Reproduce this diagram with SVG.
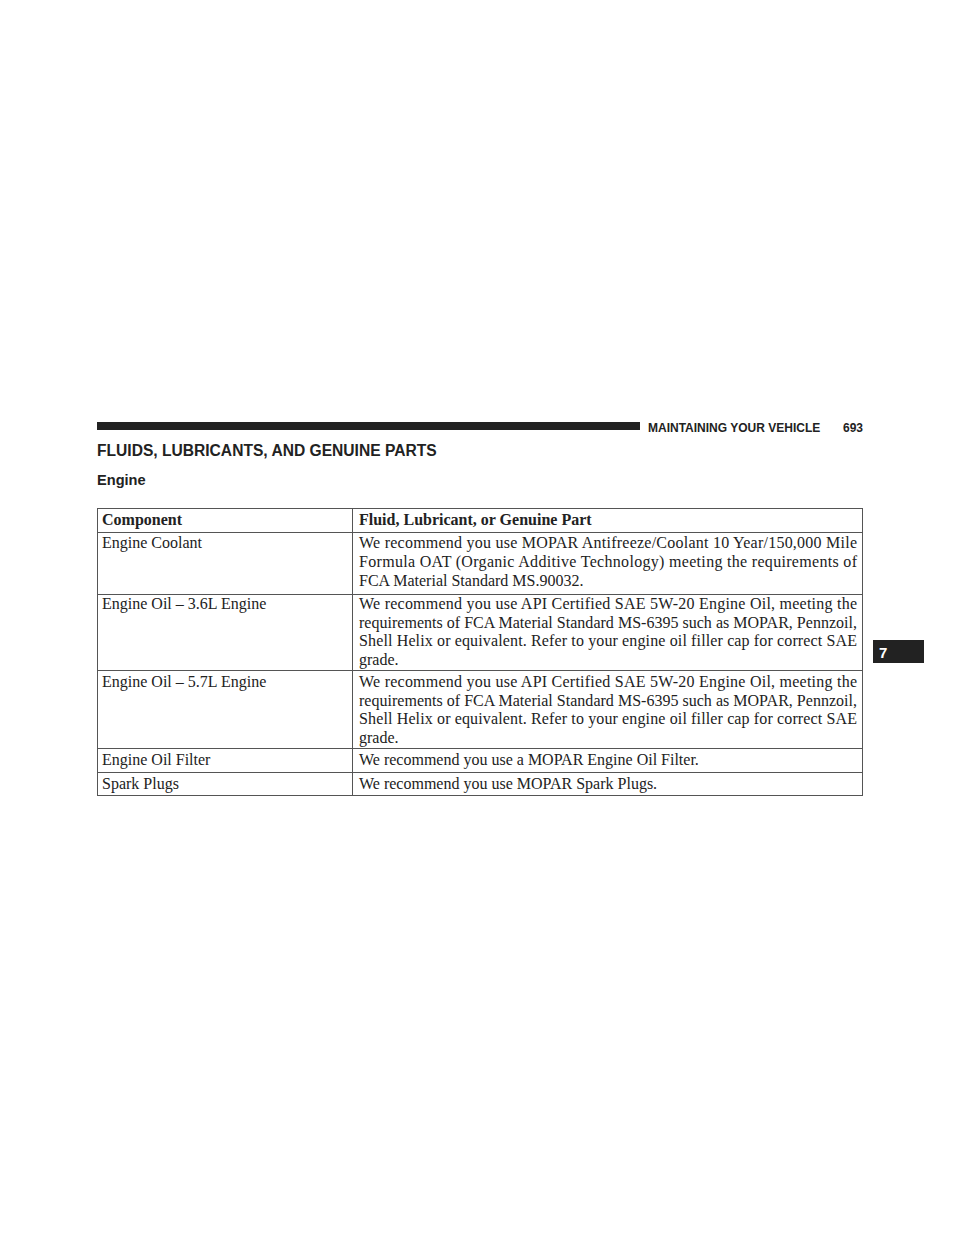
<svg xmlns="http://www.w3.org/2000/svg" width="960" height="1242" viewBox="0 0 960 1242">
<style>
.h{font-family:"Liberation Sans",Arial,sans-serif;font-weight:bold;fill:#222}
.t{font-family:"Liberation Serif","Times New Roman",serif;font-size:16px;fill:#222}
.b{font-weight:bold}
.ln{stroke:#555;stroke-width:1;fill:none}
</style>
<rect width="960" height="1242" fill="#fff"/>
<rect x="97" y="422" width="543" height="8" fill="#222"/>
<text class="h" x="648" y="432" font-size="12">MAINTAINING YOUR VEHICLE</text>
<text class="h" x="843" y="432" font-size="12">693</text>
<text class="h" x="97" y="456" font-size="15.6">FLUIDS, LUBRICANTS, AND GENUINE PARTS</text>
<text class="h" x="97" y="485" font-size="14.6">Engine</text>
<rect x="873" y="640" width="51" height="23" fill="#222"/>
<text class="h" x="879" y="658" font-size="15" style="fill:#fff">7</text>
<g id="table">
<rect class="ln" x="97.5" y="508.5" width="765" height="287"/>
<path class="ln" d="M352.5 508.5V795.5M97.5 532.5H862.5M97.5 594.5H862.5M97.5 670.5H862.5M97.5 748.5H862.5M97.5 772.5H862.5"/>
</g>
<g id="r0">
<text class="t b" x="102" y="525">Component</text>
<text class="t b" x="359" y="525">Fluid, Lubricant, or Genuine Part</text>
</g>
<g id="r1">
<text class="t" x="102" y="548">Engine Coolant</text>
<text class="t" x="359" y="548" textLength="498" lengthAdjust="spacing">We recommend you use MOPAR Antifreeze/Coolant 10 Year/150,000 Mile</text>
<text class="t" x="359" y="567" textLength="498" lengthAdjust="spacing">Formula OAT (Organic Additive Technology) meeting the requirements of</text>
<text class="t" x="359" y="586">FCA Material Standard MS.90032.</text>
</g>
<g id="r2">
<text class="t" x="102" y="609">Engine Oil – 3.6L Engine</text>
<text class="t" x="359" y="609" textLength="498" lengthAdjust="spacing">We recommend you use API Certified SAE 5W-20 Engine Oil, meeting the</text>
<text class="t" x="359" y="628" textLength="498" lengthAdjust="spacing">requirements of FCA Material Standard MS-6395 such as MOPAR, Pennzoil,</text>
<text class="t" x="359" y="646" textLength="498" lengthAdjust="spacing">Shell Helix or equivalent. Refer to your engine oil filler cap for correct SAE</text>
<text class="t" x="359" y="665">grade.</text>
</g>
<g id="r3">
<text class="t" x="102" y="687">Engine Oil – 5.7L Engine</text>
<text class="t" x="359" y="687" textLength="498" lengthAdjust="spacing">We recommend you use API Certified SAE 5W-20 Engine Oil, meeting the</text>
<text class="t" x="359" y="706" textLength="498" lengthAdjust="spacing">requirements of FCA Material Standard MS-6395 such as MOPAR, Pennzoil,</text>
<text class="t" x="359" y="724" textLength="498" lengthAdjust="spacing">Shell Helix or equivalent. Refer to your engine oil filler cap for correct SAE</text>
<text class="t" x="359" y="743">grade.</text>
</g>
<g id="r4">
<text class="t" x="102" y="765">Engine Oil Filter</text>
<text class="t" x="359" y="765">We recommend you use a MOPAR Engine Oil Filter.</text>
</g>
<g id="r5">
<text class="t" x="102" y="789">Spark Plugs</text>
<text class="t" x="359" y="789">We recommend you use MOPAR Spark Plugs.</text>
</g>
</svg>
